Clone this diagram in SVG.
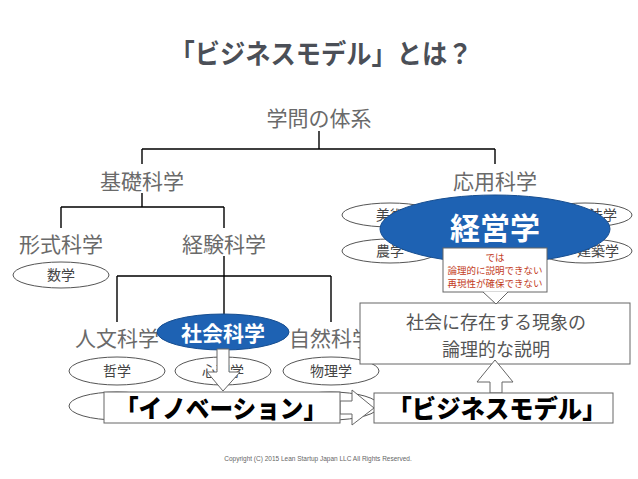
<svg xmlns="http://www.w3.org/2000/svg" width="638" height="479" viewBox="0 0 638 479">
<style>
.t{font-family:"Noto Sans CJK JP","Noto Sans",sans-serif;fill:#6a6a6a;text-anchor:middle}
.h{font-size:21px}
.s{font-size:14px;fill:#444}
.el{fill:#fff;stroke:#555;stroke-width:1}
.blue{fill:#1e62b3;stroke:#174e90;stroke-width:1}
.w{font-family:"Noto Sans CJK JP",sans-serif;font-weight:700;fill:#fff;text-anchor:middle}
.ln{fill:none;stroke:#000;stroke-width:1.4}
.box{fill:#fff;stroke:#666;stroke-width:1}
.big{font-family:"Noto Sans CJK JP",sans-serif;font-weight:900;fill:#000;font-size:25px;text-anchor:middle}
.ar{fill:#fff;stroke:#666;stroke-width:1;stroke-linejoin:miter}
.red{font-family:"Noto Sans CJK JP",sans-serif;font-size:9.5px;fill:#c23b22;text-anchor:middle}
</style>
<rect width="638" height="479" fill="#fff"/>
<g id="title"><text x="321" y="64" textLength="303" lengthAdjust="spacingAndGlyphs" style="font-family:'Noto Sans CJK JP',sans-serif;font-weight:700;font-size:27px;fill:#4b4f57;text-anchor:middle">「ビジネスモデル」とは？</text></g>
<g id="connectors">
<path class="ln" d="M319,131 V149 M142,149 H495 M142,149 V164 M495,149 V164"/>
<path class="ln" d="M142,193 V207 M61,207 H224 M61,207 V228 M224,207 V228"/>
<path class="ln" d="M224,256 V318 M117,276 H331 M117,276 V322 M331,276 V322"/>
</g>
<g id="n-root"><text class="t h" x="319" y="126">学問の体系</text></g>
<g id="n-kiso"><text class="t h" x="142" y="189">基礎科学</text></g>
<g id="n-oyo"><text class="t h" x="495" y="189">応用科学</text></g>
<g id="n-keishiki"><text class="t h" x="61" y="252">形式科学</text></g>
<g id="n-keiken"><text class="t h" x="224" y="252">経験科学</text></g>
<g id="n-jinbun"><text class="t h" x="117" y="346">人文科学</text></g>
<g id="n-shizen"><text class="t h" x="331" y="346">自然科学</text></g>
<g id="n-sugaku"><ellipse class="el" cx="61" cy="275" rx="48" ry="13"/><text class="t s" x="61" y="280">数学</text></g>
<g id="n-tetsugaku"><ellipse class="el" cx="117" cy="371" rx="48" ry="14"/><text class="t s" x="117" y="376">哲学</text></g>
<g id="n-shinri"><ellipse class="el" cx="223" cy="371" rx="48" ry="14"/><text class="t s" x="223" y="376">心理学</text></g>
<g id="n-butsuri"><ellipse class="el" cx="331" cy="371" rx="48" ry="14"/><text class="t s" x="331" y="376">物理学</text></g>
<g id="n-row2a"><ellipse class="el" cx="117" cy="406" rx="48" ry="14"/></g>
<g id="n-row2c"><ellipse class="el" cx="331" cy="406" rx="48" ry="14"/></g>
<g id="n-bijutsu"><ellipse class="el" cx="390" cy="215" rx="48" ry="12"/><text class="t s" x="390" y="220">美術</text></g>
<g id="n-nogaku"><ellipse class="el" cx="390" cy="251" rx="48" ry="12"/><text class="t s" x="390" y="256">農学</text></g>
<g id="n-hogaku"><ellipse class="el" cx="585" cy="215" rx="47" ry="12"/><text class="t s" x="603" y="220">法学</text></g>
<g id="n-kenchiku"><ellipse class="el" cx="585" cy="251" rx="47" ry="12"/><text class="t s" x="598" y="256">建築学</text></g>
<g id="n-shakai"><ellipse class="blue" cx="223" cy="332" rx="66" ry="18"/><text class="w" x="223" y="341" style="font-size:21px">社会科学</text></g>
<g id="n-keiei"><ellipse class="blue" cx="495" cy="229" rx="115" ry="34"/><text class="w" x="495" y="239" style="font-size:30px">経営学</text></g>
<g id="n-setsumei">
<rect class="box" x="360" y="303" width="270" height="61"/>
<text class="t" x="496" y="329" style="font-size:18px;fill:#555">社会に存在する現象の</text>
<text class="t" x="496" y="356" style="font-size:18px;fill:#555">論理的な説明</text>
</g>
<g id="n-callout">
<rect class="box" x="443" y="248" width="104" height="44"/>
<polygon points="483,291.5 508,291.5 496,304" fill="#fff"/>
<path d="M483,292 L496,304 L508,292" fill="none" stroke="#666" stroke-width="1"/>
<text class="red" x="495" y="261">では</text>
<text class="red" x="495" y="274">論理的に説明できない</text>
<text class="red" x="495" y="287">再現性が確保できない</text>
</g>
<g id="arrows">
<polygon class="ar" points="217,349 229,349 229,372 240,372 223,391 207,372 217,372"/>
<polygon class="ar" points="340,401 352,401 352,390 374,408 352,425 352,414 340,414"/>
<polygon class="ar" points="490,393 502,393 502,382 513,382 495,360 477,382 490,382"/>
</g>
<g id="n-innovation"><rect class="box" x="104" y="392" width="236" height="31"/><text class="big" x="221" y="418" textLength="212" lengthAdjust="spacingAndGlyphs">「イノベーション」</text></g>
<g id="n-bizmodel"><rect class="box" x="374" y="393" width="239" height="30"/><text class="big" x="497" y="418" textLength="219" lengthAdjust="spacingAndGlyphs">「ビジネスモデル」</text></g>
<g id="copyright"><text x="318" y="461" style="font-family:'Liberation Sans',sans-serif;font-size:6.5px;fill:#666;text-anchor:middle">Copyright (C) 2015 Lean Startup Japan LLC All Rights Reserved.</text></g>
</svg>
